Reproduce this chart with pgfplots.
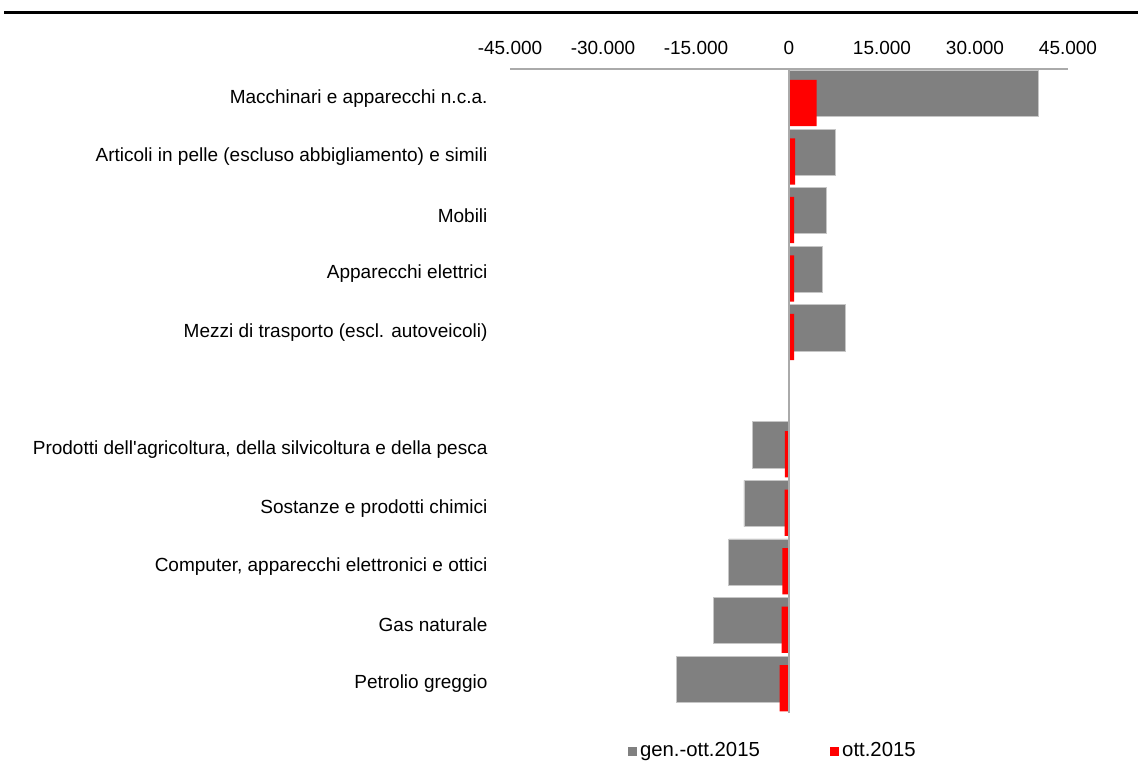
\documentclass[border=0pt]{standalone}
\usepackage{fontspec}
\setmainfont{Liberation Sans}
\usepackage{pgfplots}
\pgfplotsset{compat=1.18}
\definecolor{bargray}{RGB}{128,128,128}
\definecolor{zerogray}{RGB}{170,170,170}
\begin{document}
\begin{tikzpicture}
\useasboundingbox (0pt,0pt) rectangle (682.8pt,-464.4pt);
\draw[line width=1.8pt] (2.4pt,-7.2pt) -- (682.8pt,-7.2pt);
\begin{axis}[
  at={(306pt,-41.4pt)}, anchor=north west,
  width=334.8pt, height=386.4pt, scale only axis,
  xbar, y dir=reverse,
  xmin=-45000, xmax=45000,
  ymin=-0.5, ymax=10.5,
  scaled x ticks=false,
  xtick={-45000,-30000,-15000,0,15000,30000,45000},
  xticklabels={-45.000,-30.000,-15.000,0,15.000,30.000,45.000},
  ytick={0,1,2,3,4,6,7,8,9,10},
  yticklabels={Macchinari e apparecchi n.c.a.,Articoli in pelle (escluso abbigliamento) e simili,Mobili,Apparecchi elettrici,Mezzi di trasporto (escl. autoveicoli),Prodotti dell\textquotesingle agricoltura{,} della silvicoltura e della pesca,Sostanze e prodotti chimici,{Computer, apparecchi elettronici e ottici},Gas naturale,Petrolio greggio},
  axis x line*=top,
  axis y line*=left,
  y axis line style={draw=none},
  x axis line style={draw=zerogray, line width=0.8pt, -},
  major tick length=0pt,
  tick label style={font=\fontsize{11.4}{13.5}\selectfont},
  xticklabel style={yshift=5pt},
  yticklabel style={xshift=-10pt},
  legend style={at={(0.472,-0.059)}, anchor=center, draw=none, font=\fontsize{12.2}{14}\selectfont,
    /tikz/every even column/.append style={column sep=40pt}},
  legend columns=2,
  legend image code/.code={\fill[#1,draw=none] (0pt,-2.7pt) rectangle (5.4pt,2.7pt);},
  clip=false,
]
\addplot[fill=bargray, draw=gray!45, line width=0.5pt, bar width=0.79, bar shift=-0.0785] coordinates {
 (40250,0) (7480,1) (6030,2) (5330,3) (9050,4)
 (-5870,6) (-7270,7) (-9700,8) (-12150,9) (-18150,10)
};
\addlegendentry{gen.-ott.2015}
\addplot[fill=red, draw=none, bar width=0.79, bar shift=0.0785] coordinates {
 (4450,0) (970,1) (810,2) (810,3) (810,4)
 (-650,6) (-700,7) (-1080,8) (-1190,9) (-1500,10)
};
\addlegendentry{ott.2015}
\draw[zerogray, line width=0.8pt] (axis cs:0,-0.5) -- (axis cs:0,10.5);
\end{axis}
\end{tikzpicture}
\end{document}
